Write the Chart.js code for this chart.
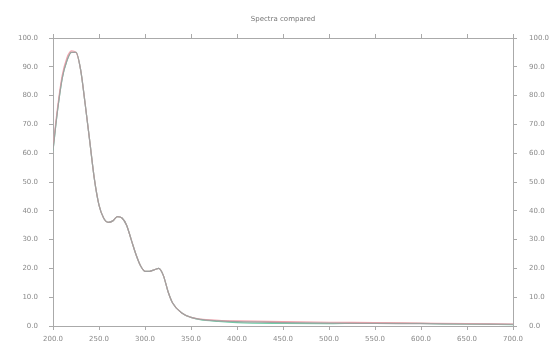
<!DOCTYPE html>
<html><head><meta charset="utf-8">
<script src="https://cdn.jsdelivr.net/npm/chart.js@4/dist/chart.umd.min.js"></script>
<style>html,body{margin:0;padding:0;background:#fff}#c{display:block}</style>
</head><body>
<canvas id="c" width="549" height="349"></canvas>
<script>
const chartTitle = "Spectra compared";
const wavelength = [200,205,210,215,220,225,230,235,240,245,250,255,260,265,270,275,280,285,290,295,300,305,310,315,320,325,330,340,350,360,380,400,450,500,550,600,650,700];
const seriesGrey = [61,75,86,92,95,95,89,77,64,51,42,37.5,36,36.5,38,37.5,35,30,25,21,19,19,19.5,20,17.5,12,8,4.5,3,2.3,1.8,1.5,1.2,1.0,0.9,0.8,0.7,0.6];
const seriesRed  = [62,76,87,93,95.5,95,89,77,64,51,42,37.5,36,36.5,38,37.5,35,30,25,21,19,19,19.5,20,17.5,12,8,4.5,3,2.4,2.0,1.8,1.5,1.3,1.2,1.0,0.8,0.7];
const seriesGreen= [61,75,86,92,95,95,89,77,64,51,42,37.5,36,36.5,38,37.5,35,30,25,21,19,19,19.5,20,17.5,12,8,4.5,3,2.2,1.6,1.2,0.9,0.8,1.1,0.9,0.6,0.5];
const xTicks = [200,250,300,350,400,450,500,550,600,650,700];
const yTicks = [0,10,20,30,40,50,60,70,80,90,100];

const pts = arr => wavelength.map((x,i)=>({x:x,y:arr[i]}));
const axisCol = '#aaaaaa', textCol = '#8a8a8a';
const tickFont = {family:'DejaVu Sans', size:7};
const common = {
  border:{display:true,color:axisCol,width:1},
  grid:{drawOnChartArea:false,drawTicks:true,tickLength:4,color:axisCol},
};
new Chart(document.getElementById('c'),{
  type:'line',
  data:{datasets:[
    {label:'grey',data:pts(seriesGrey),borderColor:'#a0a0a0',borderWidth:1.2,pointRadius:0,cubicInterpolationMode:'monotone',order:1},
    {label:'red',data:pts(seriesRed),borderColor:'#f2a3ad',borderWidth:1.2,pointRadius:0,cubicInterpolationMode:'monotone',order:2},
    {label:'green',data:pts(seriesGreen),borderColor:'#6fcfa8',borderWidth:1.2,pointRadius:0,cubicInterpolationMode:'monotone',order:3}
  ]},
  options:{
    responsive:false,animation:false,
    layout:{padding:0},
    plugins:{legend:{display:false},title:{display:false},tooltip:{enabled:false}},
    scales:{
      x:{type:'linear',position:'bottom',min:200,max:700,...common,
        afterBuildTicks:s=>{s.ticks=xTicks.map(v=>({value:v}));},
        afterFit:s=>{s.height=23;},
        ticks:{color:textCol,font:tickFont,padding:5,maxRotation:0,callback:v=>Number(v).toFixed(1)}},
      x2:{type:'linear',position:'top',min:200,max:700,...common,
        afterBuildTicks:s=>{s.ticks=xTicks.map(v=>({value:v}));},
        afterFit:s=>{s.height=38;},
        ticks:{display:false},
        title:{display:true,text:chartTitle,color:'#777',font:{family:'DejaVu Sans',size:7},padding:{top:15,bottom:0}}},
      y:{type:'linear',position:'left',min:0,max:100,...common,
        afterBuildTicks:s=>{s.ticks=yTicks.map(v=>({value:v}));},
        afterFit:s=>{s.width=53;},
        ticks:{color:textCol,font:tickFont,padding:11,callback:v=>Number(v).toFixed(1)}},
      y2:{type:'linear',position:'right',min:0,max:100,...common,
        afterBuildTicks:s=>{s.ticks=yTicks.map(v=>({value:v}));},
        afterFit:s=>{s.width=36;},
        ticks:{color:textCol,font:tickFont,padding:12,callback:v=>Number(v).toFixed(1)}}
    }
  }
});
</script>
</body></html>
